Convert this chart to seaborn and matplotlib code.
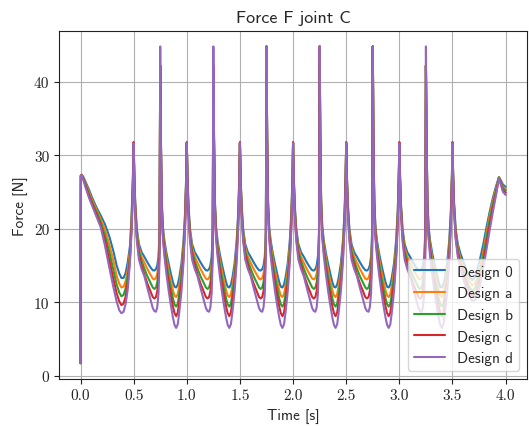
import numpy as np
import pandas as pd
import matplotlib
matplotlib.use("Agg")
import matplotlib.pyplot as plt
import seaborn as sns

# ---------------- data ----------------
time = [
    0.0, 0.003, 0.01, 0.025, 0.05, 0.08, 0.11, 0.15, 0.19, 0.23, 0.27, 0.31, 0.34, 0.365, 0.385, 0.405, 0.425, 0.445, 0.465, 0.48, 0.492,
    0.5, 0.506, 0.515, 0.53, 0.55, 0.575, 0.6, 0.63, 0.66, 0.68, 0.695, 0.71, 0.722, 0.734, 0.744, 0.75, 0.756, 0.764, 0.775, 0.79, 0.81, 0.83, 0.85, 0.87, 0.885, 0.9, 0.915, 0.93, 0.95, 0.97, 0.985, 0.995,
    1.0, 1.006, 1.015, 1.03, 1.05, 1.075, 1.1, 1.13, 1.16, 1.18, 1.195, 1.21, 1.222, 1.234, 1.244, 1.25, 1.256, 1.264, 1.275, 1.29, 1.31, 1.33, 1.35, 1.37, 1.385, 1.4, 1.415, 1.43, 1.45, 1.47, 1.485, 1.495,
    1.5, 1.506, 1.515, 1.53, 1.55, 1.575, 1.6, 1.63, 1.66, 1.68, 1.695, 1.71, 1.722, 1.734, 1.744, 1.75, 1.756, 1.764, 1.775, 1.79, 1.81, 1.83, 1.85, 1.87, 1.885, 1.9, 1.915, 1.93, 1.95, 1.97, 1.985, 1.995,
    2.0, 2.006, 2.015, 2.03, 2.05, 2.075, 2.1, 2.13, 2.16, 2.18, 2.195, 2.21, 2.222, 2.234, 2.244, 2.25, 2.256, 2.264, 2.275, 2.29, 2.31, 2.33, 2.35, 2.37, 2.385, 2.4, 2.415, 2.43, 2.45, 2.47, 2.485, 2.495,
    2.5, 2.506, 2.515, 2.53, 2.55, 2.575, 2.6, 2.63, 2.66, 2.68, 2.695, 2.71, 2.722, 2.734, 2.744, 2.75, 2.756, 2.764, 2.775, 2.79, 2.81, 2.83, 2.85, 2.87, 2.885, 2.9, 2.915, 2.93, 2.95, 2.97, 2.985, 2.995,
    3.0, 3.006, 3.015, 3.03, 3.05, 3.075, 3.1, 3.13, 3.16, 3.18, 3.195, 3.21, 3.222, 3.234, 3.244, 3.25, 3.256, 3.264, 3.275, 3.29, 3.31, 3.33, 3.35, 3.37, 3.385, 3.4, 3.415, 3.43, 3.45, 3.47, 3.485, 3.495,
    3.5, 3.506, 3.515, 3.53, 3.55, 3.575, 3.6, 3.63, 3.66, 3.685, 3.71, 3.735, 3.76, 3.79, 3.82, 3.85, 3.88, 3.91, 3.937, 3.955, 3.975, 4.0,
]

force_design_0 = [
    1.7, 27.2, 27.35, 27.1, 26.3, 25.3, 24.2, 22.9, 21.8, 20.6, 19.0, 16.9, 15.0, 13.9, 13.3, 13.3, 14.0, 15.5, 17.6, 21.5, 26.5,
    31.65, 27.5, 23.5, 20.0, 17.9, 16.8, 16.2, 15.4, 14.7, 14.35, 14.3, 14.5, 15.0, 16.2, 19.5, 42.2, 33.0, 24.0, 20.3, 18.3, 16.6, 15.2, 13.9, 12.7, 12.1, 12.0, 12.4, 13.4, 15.3, 18.5, 22.5, 27.5,
    31.65, 27.5, 23.5, 20.0, 17.9, 16.8, 16.2, 15.4, 14.7, 14.35, 14.3, 14.5, 15.0, 16.2, 19.5, 42.2, 33.0, 24.0, 20.3, 18.3, 16.6, 15.2, 13.9, 12.7, 12.1, 12.0, 12.4, 13.4, 15.3, 18.5, 22.5, 27.5,
    31.65, 27.5, 23.5, 20.0, 17.9, 16.8, 16.2, 15.4, 14.7, 14.35, 14.3, 14.5, 15.0, 16.2, 19.5, 44.8, 33.0, 24.0, 20.3, 18.3, 16.6, 15.2, 13.9, 12.7, 12.1, 12.0, 12.4, 13.4, 15.3, 18.5, 22.5, 27.5,
    31.65, 27.5, 23.5, 20.0, 17.9, 16.8, 16.2, 15.4, 14.7, 14.35, 14.3, 14.5, 15.0, 16.2, 19.5, 44.8, 33.0, 24.0, 20.3, 18.3, 16.6, 15.2, 13.9, 12.7, 12.1, 12.0, 12.4, 13.4, 15.3, 18.5, 22.5, 27.5,
    31.65, 27.5, 23.5, 20.0, 17.9, 16.8, 16.2, 15.4, 14.7, 14.35, 14.3, 14.5, 15.0, 16.2, 19.5, 44.8, 33.0, 24.0, 20.3, 18.3, 16.6, 15.2, 13.9, 12.7, 12.1, 12.0, 12.4, 13.4, 15.3, 18.5, 22.5, 27.5,
    31.65, 27.5, 23.5, 20.0, 17.9, 16.8, 16.2, 15.4, 14.7, 14.35, 14.3, 14.5, 15.0, 16.2, 19.5, 42.2, 33.0, 24.0, 20.3, 18.3, 16.6, 15.2, 13.9, 12.7, 12.1, 12.0, 12.4, 13.4, 15.3, 18.5, 22.5, 27.5,
    31.65, 27.5, 23.5, 20.0, 17.9, 16.6, 15.6, 14.4, 13.5, 13.0, 13.4, 14.5, 15.9, 17.9, 20.2, 22.3, 24.2, 25.8, 27.0, 26.6, 26.0, 25.7,
]

force_design_a = [
    1.7, 27.2, 27.35, 27.0, 26.1, 25.0, 23.9, 22.6, 21.3, 19.9, 17.9, 15.6, 13.6, 12.5, 12.0, 12.1, 12.9, 14.5, 16.9, 20.9, 26.0,
    31.65, 27.3, 23.2, 19.6, 17.4, 16.2, 15.4, 14.5, 13.7, 13.2, 13.1, 13.3, 13.9, 15.2, 18.8, 42.2, 32.7, 23.7, 19.9, 17.8, 15.9, 14.3, 12.9, 11.6, 10.9, 10.7, 11.1, 12.3, 14.4, 17.8, 22.0, 27.2,
    31.65, 27.3, 23.2, 19.6, 17.4, 16.2, 15.4, 14.5, 13.7, 13.2, 13.1, 13.3, 13.9, 15.2, 18.8, 42.2, 32.7, 23.7, 19.9, 17.8, 15.9, 14.3, 12.9, 11.6, 10.9, 10.7, 11.1, 12.3, 14.4, 17.8, 22.0, 27.2,
    31.65, 27.3, 23.2, 19.6, 17.4, 16.2, 15.4, 14.5, 13.7, 13.2, 13.1, 13.3, 13.9, 15.2, 18.8, 44.8, 32.7, 23.7, 19.9, 17.8, 15.9, 14.3, 12.9, 11.6, 10.9, 10.7, 11.1, 12.3, 14.4, 17.8, 22.0, 27.2,
    31.65, 27.3, 23.2, 19.6, 17.4, 16.2, 15.4, 14.5, 13.7, 13.2, 13.1, 13.3, 13.9, 15.2, 18.8, 44.8, 32.7, 23.7, 19.9, 17.8, 15.9, 14.3, 12.9, 11.6, 10.9, 10.7, 11.1, 12.3, 14.4, 17.8, 22.0, 27.2,
    31.65, 27.3, 23.2, 19.6, 17.4, 16.2, 15.4, 14.5, 13.7, 13.2, 13.1, 13.3, 13.9, 15.2, 18.8, 44.8, 32.7, 23.7, 19.9, 17.8, 15.9, 14.3, 12.9, 11.6, 10.9, 10.7, 11.1, 12.3, 14.4, 17.8, 22.0, 27.2,
    31.65, 27.3, 23.2, 19.6, 17.4, 16.2, 15.4, 14.5, 13.7, 13.2, 13.1, 13.3, 13.9, 15.2, 18.8, 42.2, 32.7, 23.7, 19.9, 17.8, 15.9, 14.3, 12.9, 11.6, 10.9, 10.7, 11.1, 12.3, 14.4, 17.8, 22.0, 27.2,
    31.65, 27.3, 23.2, 19.6, 17.4, 15.9, 14.9, 13.7, 12.8, 12.3, 12.5, 13.4, 14.8, 16.9, 19.4, 21.8, 23.8, 25.5, 27.0, 26.4, 25.7, 25.4,
]

force_design_b = [
    1.7, 27.2, 27.3, 26.9, 25.9, 24.7, 23.6, 22.3, 20.9, 19.1, 16.9, 14.3, 12.4, 11.3, 10.8, 11.0, 11.9, 13.6, 16.3, 20.4, 25.5,
    31.65, 27.1, 22.9, 19.2, 16.9, 15.6, 14.6, 13.5, 12.6, 12.0, 11.8, 12.0, 12.7, 14.2, 18.1, 42.2, 32.4, 23.4, 19.5, 17.3, 15.2, 13.4, 11.9, 10.5, 9.7, 9.4, 9.8, 11.2, 13.5, 17.1, 21.5, 26.9,
    31.65, 27.1, 22.9, 19.2, 16.9, 15.6, 14.6, 13.5, 12.6, 12.0, 11.8, 12.0, 12.7, 14.2, 18.1, 42.2, 32.4, 23.4, 19.5, 17.3, 15.2, 13.4, 11.9, 10.5, 9.7, 9.4, 9.8, 11.2, 13.5, 17.1, 21.5, 26.9,
    31.65, 27.1, 22.9, 19.2, 16.9, 15.6, 14.6, 13.5, 12.6, 12.0, 11.8, 12.0, 12.7, 14.2, 18.1, 44.8, 32.4, 23.4, 19.5, 17.3, 15.2, 13.4, 11.9, 10.5, 9.7, 9.4, 9.8, 11.2, 13.5, 17.1, 21.5, 26.9,
    31.65, 27.1, 22.9, 19.2, 16.9, 15.6, 14.6, 13.5, 12.6, 12.0, 11.8, 12.0, 12.7, 14.2, 18.1, 44.8, 32.4, 23.4, 19.5, 17.3, 15.2, 13.4, 11.9, 10.5, 9.7, 9.4, 9.8, 11.2, 13.5, 17.1, 21.5, 26.9,
    31.65, 27.1, 22.9, 19.2, 16.9, 15.6, 14.6, 13.5, 12.6, 12.0, 11.8, 12.0, 12.7, 14.2, 18.1, 44.8, 32.4, 23.4, 19.5, 17.3, 15.2, 13.4, 11.9, 10.5, 9.7, 9.4, 9.8, 11.2, 13.5, 17.1, 21.5, 26.9,
    31.65, 27.1, 22.9, 19.2, 16.9, 15.6, 14.6, 13.5, 12.6, 12.0, 11.8, 12.0, 12.7, 14.2, 18.1, 42.2, 32.4, 23.4, 19.5, 17.3, 15.2, 13.4, 11.9, 10.5, 9.7, 9.4, 9.8, 11.2, 13.5, 17.1, 21.5, 26.9,
    31.65, 27.1, 22.9, 19.2, 17.0, 15.4, 14.3, 13.0, 12.0, 11.6, 11.8, 12.7, 14.1, 16.2, 18.7, 21.2, 23.3, 25.2, 27.0, 26.3, 25.5, 25.2,
]

force_design_c = [
    1.7, 27.2, 27.3, 26.8, 25.7, 24.5, 23.4, 21.9, 20.5, 18.4, 15.8, 13.1, 11.2, 10.1, 9.6, 9.8, 10.8, 12.7, 15.8, 19.9, 25.0,
    31.8, 26.9, 22.6, 18.8, 16.4, 15.0, 13.8, 12.5, 11.4, 10.7, 10.5, 10.7, 11.5, 13.2, 17.4, 42.2, 32.1, 23.1, 19.1, 16.8, 14.5, 12.5, 10.9, 9.4, 8.5, 8.1, 8.6, 10.1, 12.6, 16.4, 21.0, 26.6,
    31.8, 26.9, 22.6, 18.8, 16.4, 15.0, 13.8, 12.5, 11.4, 10.7, 10.5, 10.7, 11.5, 13.2, 17.4, 42.2, 32.1, 23.1, 19.1, 16.8, 14.5, 12.5, 10.9, 9.4, 8.5, 8.1, 8.6, 10.1, 12.6, 16.4, 21.0, 26.6,
    31.8, 26.9, 22.6, 18.8, 16.4, 15.0, 13.8, 12.5, 11.4, 10.7, 10.5, 10.7, 11.5, 13.2, 17.4, 44.8, 32.1, 23.1, 19.1, 16.8, 14.5, 12.5, 10.9, 9.4, 8.5, 8.1, 8.6, 10.1, 12.6, 16.4, 21.0, 26.6,
    31.8, 26.9, 22.6, 18.8, 16.4, 15.0, 13.8, 12.5, 11.4, 10.7, 10.5, 10.7, 11.5, 13.2, 17.4, 44.8, 32.1, 23.1, 19.1, 16.8, 14.5, 12.5, 10.9, 9.4, 8.5, 8.1, 8.6, 10.1, 12.6, 16.4, 21.0, 26.6,
    31.8, 26.9, 22.6, 18.8, 16.4, 15.0, 13.8, 12.5, 11.4, 10.7, 10.5, 10.7, 11.5, 13.2, 17.4, 44.8, 32.1, 23.1, 19.1, 16.8, 14.5, 12.5, 10.9, 9.4, 8.5, 8.1, 8.6, 10.1, 12.6, 16.4, 21.0, 26.6,
    31.8, 26.9, 22.6, 18.8, 16.4, 15.0, 13.8, 12.5, 11.4, 10.7, 10.5, 10.7, 11.5, 13.2, 17.4, 42.2, 32.1, 23.1, 19.1, 16.8, 14.5, 12.5, 10.9, 9.4, 8.5, 8.1, 8.6, 10.1, 12.6, 16.4, 21.0, 26.6,
    31.8, 26.9, 22.7, 18.9, 16.6, 15.0, 13.8, 12.4, 11.4, 10.9, 11.0, 11.8, 13.2, 15.4, 17.9, 20.5, 22.8, 24.9, 26.9, 26.1, 25.2, 24.9,
]

force_design_d = [
    1.7, 27.2, 27.3, 26.7, 25.5, 24.2, 23.1, 21.6, 20.2, 17.7, 14.8, 12.0, 10.1, 8.9, 8.5, 8.7, 9.8, 11.8, 15.4, 19.5, 24.5,
    31.65, 26.6, 22.2, 18.3, 15.8, 14.5, 13.6, 11.9, 10.3, 9.2, 8.8, 8.7, 9.3, 11.2, 16.0, 44.8, 31.8, 22.7, 18.6, 16.2, 13.7, 11.5, 9.6, 7.9, 6.9, 6.5, 7.0, 8.7, 11.5, 15.6, 20.4, 26.3,
    31.65, 26.6, 22.2, 18.3, 15.8, 14.5, 13.6, 11.9, 10.3, 9.2, 8.8, 8.7, 9.3, 11.2, 16.0, 44.8, 31.8, 22.7, 18.6, 16.2, 13.7, 11.5, 9.6, 7.9, 6.9, 6.5, 7.0, 8.7, 11.5, 15.6, 20.4, 26.3,
    31.65, 26.6, 22.2, 18.3, 15.8, 14.5, 13.6, 11.9, 10.3, 9.2, 8.8, 8.7, 9.3, 11.2, 16.0, 44.8, 31.8, 22.7, 18.6, 16.2, 13.7, 11.5, 9.6, 7.9, 6.9, 6.5, 7.0, 8.7, 11.5, 15.6, 20.4, 26.3,
    31.65, 26.6, 22.2, 18.3, 15.8, 14.5, 13.6, 11.9, 10.3, 9.2, 8.8, 8.7, 9.3, 11.2, 16.0, 44.8, 31.8, 22.7, 18.6, 16.2, 13.7, 11.5, 9.6, 7.9, 6.9, 6.5, 7.0, 8.7, 11.5, 15.6, 20.4, 26.3,
    31.65, 26.6, 22.2, 18.3, 15.8, 14.5, 13.6, 11.9, 10.3, 9.2, 8.8, 8.7, 9.3, 11.2, 16.0, 44.8, 31.8, 22.7, 18.6, 16.2, 13.7, 11.5, 9.6, 7.9, 6.9, 6.5, 7.0, 8.7, 11.5, 15.6, 20.4, 26.3,
    31.65, 26.6, 22.2, 18.3, 15.8, 14.5, 13.6, 11.9, 10.3, 9.2, 8.8, 8.7, 9.3, 11.2, 16.0, 44.8, 31.8, 22.7, 18.6, 16.2, 13.7, 11.5, 9.6, 7.9, 6.9, 6.5, 7.0, 8.7, 11.5, 15.6, 20.4, 26.3,
    31.65, 26.8, 22.5, 18.6, 16.2, 14.6, 13.3, 11.8, 10.7, 10.2, 10.3, 11.0, 12.4, 14.6, 17.2, 19.8, 22.3, 24.6, 26.9, 26.0, 25.0, 24.6,
]

design_names = ["Design 0", "Design a", "Design b", "Design c", "Design d"]
design_values = [force_design_0, force_design_a, force_design_b, force_design_c, force_design_d]

x_ticks = [0.0, 0.5, 1.0, 1.5, 2.0, 2.5, 3.0, 3.5, 4.0]
x_tick_labels = ["0.0", "0.5", "1.0", "1.5", "2.0", "2.5", "3.0", "3.5", "4.0"]
y_ticks = [0, 10, 20, 30, 40]
y_tick_labels = ["0", "10", "20", "30", "40"]

# ---------------- build long-form table ----------------
frames = []
for name, vals in zip(design_names, design_values):
    frames.append(pd.DataFrame({"Time": time, "Force": vals, "Design": name}))
df = pd.concat(frames, ignore_index=True)

# ---------------- style ----------------
sns.set_style("ticks", {"axes.edgecolor": "#222222", "axes.linewidth": 0.9,
                        "xtick.color": "#222222", "ytick.color": "#222222"})
plt.rcParams["font.family"] = ["cmss10", "DejaVu Sans"]
plt.rcParams["axes.unicode_minus"] = False
plt.rcParams["axes.formatter.use_mathtext"] = True

fig = plt.figure(figsize=(5.29, 4.27), dpi=100)
ax = fig.add_axes([0.112, 0.110, 0.884, 0.816])

palette = ["#1f77b4", "#ff7f0e", "#2ca02c", "#d62728", "#9467bd"]
sns.lineplot(data=df, x="Time", y="Force", hue="Design", palette=palette,
             estimator=None, sort=False, units="Design", lw=1.5, ax=ax)

ax.grid(True, color="#b0b0b0", linewidth=0.8)
ax.set_axisbelow(True)
for s in ax.spines.values():
    s.set_visible(True)

ax.set_xticks(x_ticks)
ax.set_xticklabels(x_tick_labels, fontfamily="cmr10", fontsize=11)
ax.set_yticks(y_ticks)
ax.set_yticklabels(y_tick_labels, fontfamily="cmr10", fontsize=11)
ax.tick_params(direction="out", length=3.5, width=0.8)
ax.margins(x=0.05, y=0.05)

ax.set_title("Force F joint C", fontsize=13, pad=6)
ax.set_xlabel("Time [s]", fontsize=11)
ax.set_ylabel("Force [N]", fontsize=11)

leg = ax.legend(loc="lower right", fontsize=11, framealpha=0.8, fancybox=True,
                edgecolor="#cccccc")

fig.savefig("out.png", dpi=100)
